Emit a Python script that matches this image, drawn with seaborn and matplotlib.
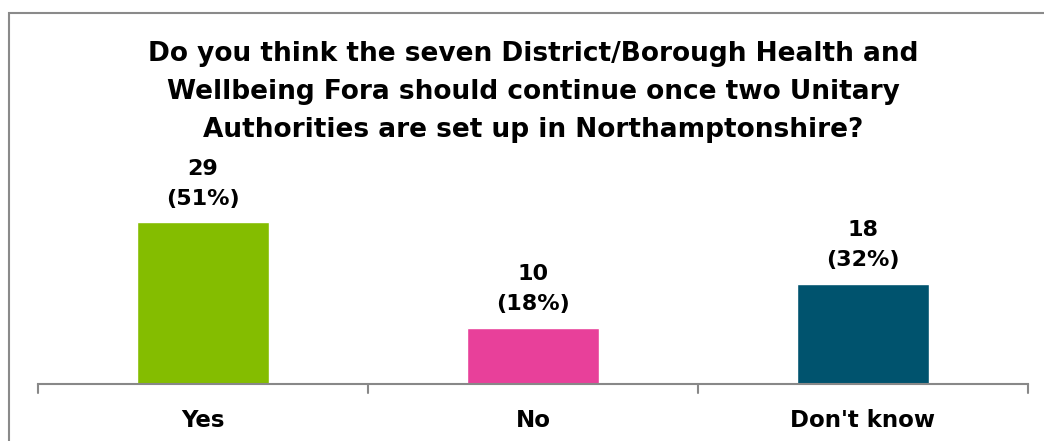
import matplotlib
matplotlib.use("Agg")
import matplotlib.pyplot as plt
import seaborn as sns
import pandas as pd
from matplotlib.patches import Rectangle

categories = ["Yes", "No", "Don't know"]
counts = [29, 10, 18]
percents = ["51%", "18%", "32%"]
colors = ["#84BD00", "#E8409A", "#00536E"]
title = ("Do you think the seven District/Borough Health and\n"
         "Wellbeing Fora should continue once two Unitary\n"
         "Authorities are set up in Northamptonshire?")

sns.set_theme(style="white")
plt.rcParams['font.family'] = ['DejaVu Sans']

df = pd.DataFrame({"cat": categories, "count": counts})

fig = plt.figure(figsize=(10.44, 4.41), dpi=100)
ax = fig.add_axes([38/1044, 1 - 384/441, (1028-38)/1044, (384-189)/441])
sns.barplot(data=df, x="cat", y="count", hue="cat", palette=colors,
            width=0.4, legend=False, ax=ax, saturation=1)

ax.set_ylim(0, 35)
ax.set_xlim(-0.5, 2.5)
for i, (c, p) in enumerate(zip(counts, percents)):
    ax.annotate(f"{c}\n({p})", (i, c), xytext=(0, 10), textcoords="offset points",
                ha="center", va="bottom", fontsize=16, fontweight="bold",
                linespacing=1.62, color="black")

for s in ["top", "right", "left"]:
    ax.spines[s].set_visible(False)
ax.spines["bottom"].set_color("#888888")
ax.spines["bottom"].set_linewidth(1.5)
ax.set_yticks([])
ax.set_xticks([0, 1, 2])
ax.set_xticklabels(categories, fontsize=16.5, fontweight="bold", color="black")
ax.tick_params(axis="x", length=0, pad=18)
for xb in [-0.5, 0.5, 1.5, 2.5]:
    ax.plot([xb, xb], [0, -0.045], transform=ax.get_xaxis_transform(),
            color="#888888", lw=1.5, clip_on=False)
ax.set_xlabel("")
ax.set_ylabel("")

fig.text(533/1044, 1 - 41/441, title, ha="center", va="top", fontsize=19,
         fontweight="bold", linespacing=1.6, color="black")

fig.patches.append(Rectangle((9/1044, -0.1), 1.2, (441-13)/441 + 0.1,
                             transform=fig.transFigure, fill=False,
                             edgecolor="#8a8a8a", lw=1.5))

fig.savefig("out.png", dpi=100)
